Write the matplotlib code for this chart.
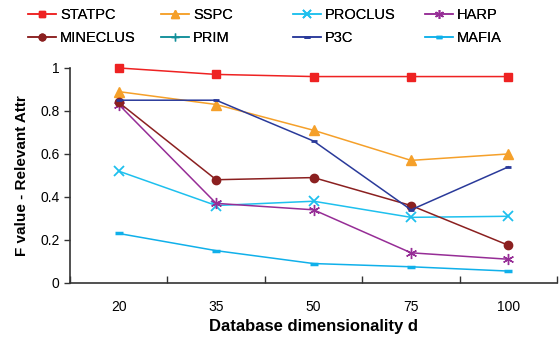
import matplotlib
matplotlib.use("Agg")
import matplotlib.pyplot as plt
import numpy as np

plt.rcParams['font.family'] = ['Liberation Sans', 'DejaVu Sans']

categories = ["20", "35", "50", "75", "100"]
statpc = [1.00, 0.97, 0.96, 0.96, 0.96]
sspc = [0.89, 0.83, 0.71, 0.57, 0.60]
proclus = [0.52, 0.36, 0.38, 0.305, 0.31]
harp = [0.83, 0.37, 0.34, 0.14, 0.11]
mineclus = [0.84, 0.48, 0.49, 0.36, 0.175]
prim = []  # no visible values in the reference
p3c = [0.85, 0.85, 0.66, 0.34, 0.54]
mafia = [0.23, 0.15, 0.09, 0.075, 0.055]
yticks = [0, 0.2, 0.4, 0.6, 0.8, 1.0]
ytick_labels = ["0", "0.2", "0.4", "0.6", "0.8", "1"]

fig = plt.figure(figsize=(5.6, 3.45), dpi=100)
ax = fig.add_axes([0.125, 0.18, 0.87, 0.623])
x = np.arange(len(categories))

series = [
    ("STATPC", statpc, "#ee2222", "s", 6, 1.0),
    ("SSPC", sspc, "#f5a02a", "^", 7, 1.0),
    ("PROCLUS", proclus, "#1ec0ee", "x", 7, 1.3),
    ("HARP", harp, "#962d96", (6, 2, 0), 8, 1.0),
    ("MINECLUS", mineclus, "#8b2020", "o", 6, 1.0),
    ("PRIM", prim, "#12909a", "+", 8, 1.0),
    ("P3C", p3c, "#2a3a9a", "_", 5, 2.0),
    ("MAFIA", mafia, "#10b0ea", "_", 6, 2.5),
]
handles = []
for name, vals, col, mk, ms, mew in series:
    xs = x[:len(vals)]
    h, = ax.plot(xs, vals, color=col, marker=mk, markersize=ms, lw=1.1,
                 markeredgewidth=mew, markerfacecolor=col, markeredgecolor=col,
                 label=name, clip_on=False)
    handles.append(h)

ax.set_xlim(-0.5, 4.5)
ax.set_ylim(0, 1)
ax.set_yticks(yticks)
ax.set_yticklabels(ytick_labels, fontsize=10)
ax.set_xticks(x)
ax.set_xticklabels(categories, fontsize=10)
ax.tick_params(axis='x', length=0, pad=12)
ax.set_xticks(np.arange(-0.5, 5.0, 1.0), minor=True)
ax.tick_params(axis='x', which='minor', length=5, direction='in', width=1, color='#333333')
ax.tick_params(axis='y', length=4, direction='out', width=1, color='#333333')
for s in ['top', 'right']:
    ax.spines[s].set_visible(False)
for s in ['left', 'bottom']:
    ax.spines[s].set_color('#333333')
    ax.spines[s].set_linewidth(1.2)

ax.set_xlabel("Database dimensionality d", fontsize=12, fontweight='bold', labelpad=4)
ax.set_ylabel("F value - Relevant Attr", fontsize=11, fontweight='bold', labelpad=8)

# legend: 4 evenly spaced columns, 2 rows (row-major order)
col_x = [25, 158, 290, 422]
for c in range(4):
    hs = [handles[c], handles[c + 4]]
    leg = fig.legend(handles=hs, loc='upper left',
                     bbox_to_anchor=(col_x[c] / 560.0, 1.0 - 5 / 345.0), ncol=1,
                     frameon=False, fontsize=10.5, handlelength=1.9,
                     handletextpad=0.3, labelspacing=0.65, markerscale=0.8,
                     borderpad=0.2, borderaxespad=0.0)
    fig.add_artist(leg)

fig.savefig("out.png", dpi=100)
